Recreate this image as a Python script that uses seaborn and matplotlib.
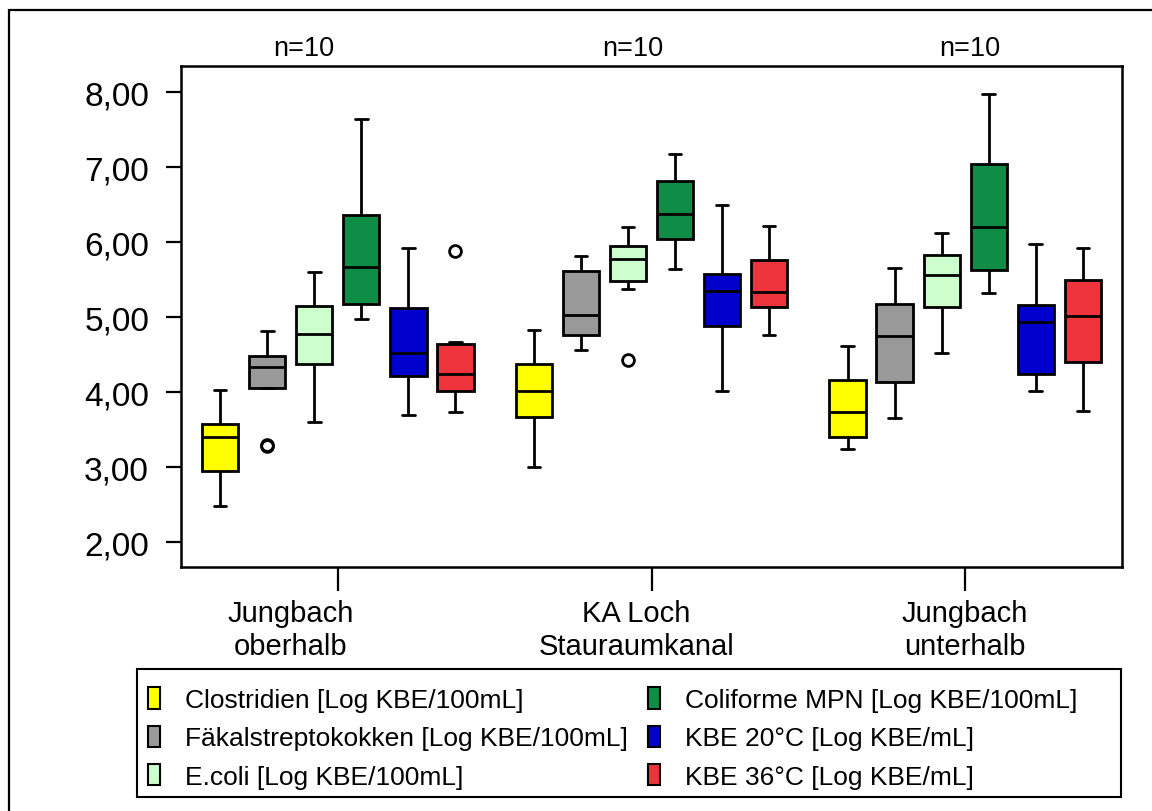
import numpy as np
import pandas as pd
import matplotlib
matplotlib.use("Agg")
import matplotlib.pyplot as plt
from matplotlib.patches import Patch, Rectangle
from matplotlib.transforms import ScaledTranslation
import seaborn as sns

# Sampling sites (x categories)
sites = ["Jungbach\noberhalb", "KA Loch\nStauraumkanal", "Jungbach\nunterhalb"]

# Measured parameters (hue)
parameters = [
    "Clostridien [Log KBE/100mL]",
    "Fäkalstreptokokken [Log KBE/100mL]",
    "E.coli [Log KBE/100mL]",
    "Coliforme MPN [Log KBE/100mL]",
    "KBE 20°C [Log KBE/mL]",
    "KBE 36°C [Log KBE/mL]",
]
colors = ["#FFFF00", "#999999", "#CCFFCC", "#0F8C46", "#0000CC", "#EF333C"]

# Ten samples per site and parameter (log values)
clostridien = [
    [2.48, 2.80, 2.93, 3.01, 3.36, 3.44, 3.55, 3.59, 3.78, 4.03],
    [3.00, 3.45, 3.64, 3.76, 3.95, 4.07, 4.31, 4.39, 4.58, 4.83],
    [3.24, 3.33, 3.38, 3.46, 3.68, 3.78, 4.10, 4.18, 4.35, 4.61],
]
faekalstreptokokken = [
    [3.28, 3.30, 4.05, 4.09, 4.30, 4.36, 4.46, 4.49, 4.62, 4.81],
    [4.56, 4.68, 4.74, 4.82, 4.96, 5.10, 5.55, 5.63, 5.72, 5.82],
    [3.65, 3.95, 4.10, 4.22, 4.68, 4.82, 5.12, 5.20, 5.40, 5.66],
]
ecoli = [
    [3.60, 4.12, 4.35, 4.47, 4.72, 4.82, 5.09, 5.17, 5.38, 5.60],
    [4.43, 5.37, 5.45, 5.57, 5.74, 5.82, 5.92, 5.96, 6.05, 6.20],
    [4.52, 4.95, 5.11, 5.23, 5.50, 5.62, 5.80, 5.84, 5.97, 6.12],
]
coliforme = [
    [4.97, 5.08, 5.13, 5.29, 5.55, 5.79, 6.24, 6.40, 6.90, 7.64],
    [5.64, 5.90, 6.01, 6.13, 6.32, 6.44, 6.76, 6.84, 6.98, 7.17],
    [5.32, 5.50, 5.59, 5.75, 6.10, 6.30, 6.95, 7.07, 7.45, 7.97],
]
kbe20 = [
    [3.69, 4.02, 4.17, 4.33, 4.45, 4.59, 5.03, 5.15, 5.46, 5.92],
    [4.02, 4.60, 4.85, 4.97, 5.30, 5.40, 5.55, 5.59, 5.85, 6.50],
    [4.02, 4.15, 4.21, 4.33, 4.88, 5.00, 5.13, 5.17, 5.50, 5.97],
]
kbe36 = [
    [3.73, 3.90, 3.98, 4.10, 4.18, 4.30, 4.61, 4.65, 4.67, 5.88],
    [4.76, 5.02, 5.11, 5.23, 5.28, 5.38, 5.70, 5.78, 5.95, 6.21],
    [3.75, 4.15, 4.36, 4.52, 4.95, 5.09, 5.44, 5.52, 5.70, 5.92],
]
series = [clostridien, faekalstreptokokken, ecoli, coliforme, kbe20, kbe36]

n_labels = ["n=10", "n=10", "n=10"]
yticks = [2, 3, 4, 5, 6, 7, 8]

# Long-form table
rows = []
for param, per_site in zip(parameters, series):
    for site, values in zip(sites, per_site):
        for v in values:
            rows.append({"Standort": site, "Parameter": param, "Wert": v})
df = pd.DataFrame(rows)

sns.set_style("white")
plt.rcParams["font.family"] = ["Liberation Sans", "DejaVu Sans"]
plt.rcParams["text.color"] = "black"
plt.rcParams["xtick.color"] = "black"
plt.rcParams["ytick.color"] = "black"
plt.rcParams["axes.labelcolor"] = "black"

W, H = 1152, 812
fig = plt.figure(figsize=(W / 100, H / 100), dpi=100)
ax = fig.add_axes([181 / W, 1 - 568 / H, 941 / W, 501 / H])

sns.boxplot(
    data=df, x="Standort", y="Wert", hue="Parameter",
    order=sites, hue_order=parameters, palette=colors,
    width=0.9, gap=0.23, linecolor="black", linewidth=2.0,
    whis=1.5, saturation=1, legend=False, ax=ax,
    capwidths=0.04,
    flierprops=dict(marker="o", markerfacecolor="none",
                    markeredgecolor="black", markeredgewidth=2.0,
                    markersize=8.5),
)

ax.set_xlim(-0.5, 2.5)
ax.set_ylim(1.667, 8.347)
ax.set_xlabel("")
ax.set_ylabel("")
ax.set_yticks(yticks)
ax.set_yticklabels([f"{t:.2f}".replace(".", ",") for t in yticks], fontsize=24)
ax.set_xticks(range(len(sites)))
ax.set_xticklabels(sites, fontsize=21, linespacing=1.25)
ax.tick_params(axis="y", direction="out", length=11, width=1.6, pad=12,
               left=True, colors="black")
ax.tick_params(axis="x", direction="out", length=17, width=1.6, pad=6,
               bottom=True, colors="black")
for sp in ax.spines.values():
    sp.set_visible(True)
    sp.set_color("black")
    sp.set_linewidth(1.8)

# Category labels sit slightly left of their ticks (pixel shifts)
label_shift_px = [-47, -15, 0]
for lab, dx in zip(ax.get_xticklabels(), label_shift_px):
    lab.set_transform(lab.get_transform()
                      + ScaledTranslation(dx / 100, 0, fig.dpi_scale_trans))

# Sample counts above each site
n_shift_px = [-34, -19, 5]
for i, (lab, dx) in enumerate(zip(n_labels, n_shift_px)):
    ax.text(i, 1 + 10.5 / 501, lab,
            transform=ax.get_xaxis_transform()
            + ScaledTranslation(dx / 100, 0, fig.dpi_scale_trans),
            ha="center", va="baseline", fontsize=19.5, color="black")

# Legend: two columns of three entries inside a frame
handles = [Patch(facecolor=c, edgecolor="black", linewidth=1.5) for c in colors]
leg_kw = dict(frameon=False, borderpad=0, borderaxespad=0, fontsize=19,
              handlelength=0.46, handleheight=0.88, handletextpad=0.95,
              labelspacing=0.5, loc="center left", labelcolor="black")
leg1 = fig.legend(handles[:3], parameters[:3],
                  bbox_to_anchor=(148 / W, 1 - 739 / H), **leg_kw)
leg2 = fig.legend(handles[3:], parameters[3:],
                  bbox_to_anchor=(648 / W, 1 - 739 / H), **leg_kw)

fig.add_artist(Rectangle((137 / W, 1 - 798 / H), (1121 - 137) / W, 128 / H,
                         transform=fig.transFigure, fill=False,
                         edgecolor="black", linewidth=1.5))
# Outer frame
fig.add_artist(Rectangle((9 / W, -0.1), 1.2, 1.1 - 11 / H,
                         transform=fig.transFigure, fill=False,
                         edgecolor="black", linewidth=1.6, clip_on=False))

fig.savefig("out.png", dpi=100, facecolor="white")
